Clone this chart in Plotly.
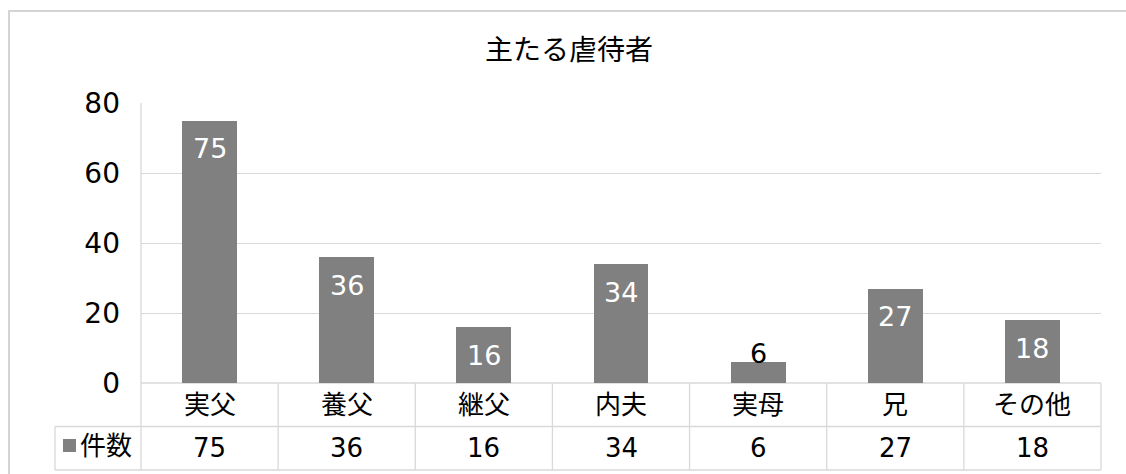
import plotly.graph_objects as go

categories = ["実父", "養父", "継父", "内夫", "実母", "兄", "その他"]
counts = [75, 36, 16, 34, 6, 27, 18]
series_name = "件数"
title_text = "主たる虐待者"
y_ticks = [0, 20, 40, 60, 80]

W, H = 1126, 474
ML, MR, MT, MB = 141, 25, 103, 91
PW = W - ML - MR
PH = H - MT - MB
FONT = "DejaVu Sans, Noto Sans CJK JP, sans-serif"
BAR_COLOR = "#808080"
LINE_COLOR = "#d9d9d9"

def py(pixel_y):
    return (H - MB - pixel_y) / PH

def px(pixel_x):
    return (pixel_x - ML) / PW

xs = list(range(len(categories)))

fig = go.Figure()
fig.add_trace(go.Bar(
    x=xs, y=counts, width=0.4, marker=dict(color=BAR_COLOR, line=dict(width=0)),
    name=series_name, showlegend=False, hoverinfo="skip",
))

annotations = []
# data labels
for i, v in enumerate(counts):
    inside = v >= 10
    annotations.append(dict(
        x=i, y=v, xref="x", yref="y", text=str(v), showarrow=False,
        yanchor="middle", yshift=(-28 if inside else 9),
        font=dict(family=FONT, size=27, color="white" if inside else "black"),
    ))
# table rows
for i, (c, v) in enumerate(zip(categories, counts)):
    annotations.append(dict(
        x=i, y=py(405), xref="x", yref="paper", text=c, showarrow=False,
        yanchor="middle", font=dict(family=FONT, size=26, color="black"),
    ))
    annotations.append(dict(
        x=i, y=py(448), xref="x", yref="paper", text=str(v), showarrow=False,
        yanchor="middle", font=dict(family=FONT, size=26, color="black"),
    ))
annotations.append(dict(
    x=px(78), y=py(446), xref="paper", yref="paper", text=series_name, showarrow=False,
    xanchor="left", yanchor="middle", font=dict(family=FONT, size=26, color="black"),
))

shapes = []
def pline(x0, y0, x1, y1, color=LINE_COLOR, width=1.3):
    shapes.append(dict(type="line", xref="paper", yref="paper",
                       x0=px(x0), y0=py(y0), x1=px(x1), y1=py(y1),
                       line=dict(color=color, width=width), layer="below"))

# outer chart border
shapes.append(dict(type="rect", xref="paper", yref="paper",
                   x0=px(9), y0=py(11), x1=px(1140), y1=py(490),
                   line=dict(color="#d4d4d4", width=2), layer="below"))
# table horizontal lines
pline(141, 383, 1101, 383)
pline(55, 426.5, 1101, 426.5)
pline(55, 470, 1101, 470)
# left plot line & legend cell
pline(141, 103, 141, 470)
pline(55, 426.5, 55, 470)
# column separators
for k in range(1, len(categories) + 1):
    xk = ML + PW * k / len(categories)
    pline(xk, 383, xk, 470)
# legend key
shapes.append(dict(type="rect", xref="paper", yref="paper",
                   x0=px(63), y0=py(452), x1=px(76), y1=py(439),
                   fillcolor=BAR_COLOR, line=dict(width=0)))

fig.update_layout(
    width=W, height=H,
    margin=dict(l=ML, r=MR, t=MT, b=MB, pad=0),
    paper_bgcolor="white", plot_bgcolor="white",
    title=dict(text=title_text, x=569 / W, xref="container", xanchor="center",
               y=1 - 50 / H, yref="container", yanchor="middle",
               font=dict(family=FONT, size=28, color="black")),
    xaxis=dict(range=[-0.5, len(categories) - 0.5], showticklabels=False,
               showgrid=False, zeroline=False, showline=False, fixedrange=True),
    yaxis=dict(range=[0, 80], tickvals=y_ticks, showgrid=True, gridcolor=LINE_COLOR,
               gridwidth=1.3, zeroline=False, showline=False, ticks="",
               ticklabelstandoff=20,
               tickfont=dict(family=FONT, size=28, color="black")),
    annotations=annotations, shapes=shapes, bargap=0,
)

fig.write_html("out.html")
